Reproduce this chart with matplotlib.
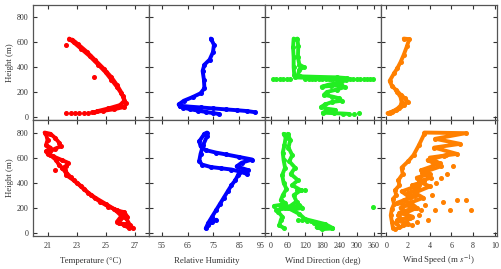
import matplotlib
matplotlib.use("Agg")
import matplotlib.pyplot as plt

# ── Data (heights in m) ─────────────────────────────────────
# Top row, temperature (deg C)
temp_top_t1 = [22.5, 22.8, 23.3, 23.9, 24.5, 25.0, 25.4, 25.8, 26.2, 26.4, 26.3, 25.6, 24.8, 24.2]
temp_top_h1 = [630, 600, 550, 490, 420, 360, 300, 240, 170, 110, 80, 62, 48, 38]
temp_top_t2 = [22.7, 23.1, 23.7, 24.3, 24.9, 25.4, 25.8, 26.1, 26.3, 26.0, 25.2, 24.4]
temp_top_h2 = [622, 585, 525, 455, 385, 320, 255, 195, 130, 95, 68, 45]
temp_top_dots_t = [22.3, 22.6, 22.9, 23.2, 23.5, 23.8, 24.1, 24.2]
temp_top_dots_h = [30, 31, 32, 33, 34, 35, 36, 320]
temp_top_out_t = [22.3]
temp_top_out_h = [580]

# Top row, relative humidity (%)
rh_top_r1 = [74.0, 75.2, 74.8, 73.5, 71.5, 70.8, 71.3, 71.5, 70.0, 67.0, 63.5, 61.5, 62.0]
rh_top_h1 = [630, 580, 520, 460, 420, 370, 300, 230, 190, 160, 130, 100, 85]
rh_top_r2 = [62.0, 66.0, 70.0, 75.0, 80.0, 84.0, 88.0, 91.0]
rh_top_h2 = [90, 82, 76, 68, 60, 54, 47, 38]
rh_top_r3 = [63.0, 66.0, 69.0, 72.0, 75.0, 77.0]
rh_top_h3 = [75, 62, 50, 40, 30, 24]

# Top row, wind direction (deg)
wd_top_d1 = [80, 78, 80, 80, 82, 86, 150, 210, 262]
wd_top_h1 = [630, 560, 480, 400, 340, 318, 312, 306, 300]
wd_top_d2 = [93, 96, 95, 100, 116, 100, 95, 102, 160, 230, 265]
wd_top_h2 = [630, 570, 480, 420, 400, 380, 340, 326, 322, 318, 312]
wd_top_d3 = [250, 230, 200, 178, 210, 245, 258, 230, 196, 186, 214, 238, 248, 214, 190, 176, 196, 226, 200, 182, 220, 252, 272]
wd_top_h3 = [290, 272, 258, 242, 250, 256, 240, 220, 200, 178, 164, 150, 130, 120, 100, 80, 66, 56, 45, 34, 30, 27, 24]
wd_top_dots_d = [8, 20, 32, 44, 56, 68, 120, 132, 144, 156, 168, 180, 192, 204, 216, 228, 240,
                 252, 264, 276, 288, 300, 312, 324, 336, 348, 358, 290, 308]
wd_top_dots_h = [304, 304, 304, 304, 304, 304, 304, 304, 304, 304, 304, 304, 304, 304, 304, 304, 304,
                 304, 304, 304, 304, 304, 304, 304, 304, 304, 304, 25, 28]

# Top row, wind speed (m/s)
ws_top_s1 = [1.6, 2.1, 1.9, 1.6, 1.3, 1.0, 0.7, 0.3, 0.5, 0.9, 1.3, 1.7, 1.95, 1.6, 1.2, 0.9, 0.5, 0.1]
ws_top_h1 = [630, 625, 570, 500, 440, 390, 350, 290, 250, 215, 180, 150, 123, 95, 75, 55, 40, 30]
ws_top_s2 = [1.0, 1.3, 1.4, 1.3, 1.0, 0.6, 0.3]
ws_top_h2 = [200, 160, 120, 90, 65, 45, 35]

# Bottom row, temperature
temp_bot_t1 = [20.8, 21.2, 21.5, 21.8, 21.9, 21.5, 21.2, 21.0, 21.4, 22.0, 22.4, 22.3, 22.0, 22.3, 22.6,
               23.0, 23.5, 24.0, 24.6, 25.2, 25.8, 26.2, 26.4, 26.7, 26.9]
temp_bot_h1 = [800, 790, 760, 720, 690, 670, 650, 630, 610, 580, 560, 535, 515, 480, 445,
               400, 350, 300, 250, 210, 180, 160, 120, 60, 38]
temp_bot_t2 = [20.9, 21.0, 20.9, 21.2, 20.9, 21.2, 21.6, 21.8, 22.2, 22.3, 22.8, 23.3, 23.8, 24.3,
               25.0, 25.6, 26.1, 25.8, 26.3, 26.6]
temp_bot_h2 = [790, 740, 700, 680, 650, 620, 580, 540, 500, 460, 420, 375, 320, 280,
               232, 190, 135, 90, 60, 40]
temp_bot_t3 = [25.7, 26.3, 26.5, 26.0, 25.9, 26.4, 26.6]
temp_bot_h3 = [180, 165, 130, 110, 75, 70, 55]
temp_bot_out_t = [21.5]
temp_bot_out_h = [505]

# Bottom row, relative humidity
rh_bot_r1 = [72.0, 73.0, 74.5, 76.0, 77.5, 79.0, 80.5, 82.0, 83.5, 84.5, 85.0, 88.5, 84.0, 86.0,
             90.0, 85.0, 80.0, 76.0, 72.0, 70.0, 69.5, 71.5, 72.5]
rh_bot_h1 = [35, 80, 130, 180, 230, 280, 330, 380, 420, 460, 480, 500, 530, 560,
             585, 605, 625, 640, 660, 690, 730, 790, 800]
rh_bot_r2 = [72.5, 71.0, 70.0, 69.5, 70.5, 74.0, 78.0, 82.0, 85.0, 88.0]
rh_bot_h2 = [770, 700, 630, 575, 545, 525, 515, 505, 490, 470]
rh_bot_r3 = [73.0, 74.5, 76.0]
rh_bot_h3 = [60, 90, 105]

# Bottom row, wind direction
wd_bot_d1 = [45, 52, 48, 42, 45, 50, 40, 45, 55, 42, 35, 50, 40, 25, 40, 35, 30, 45]
wd_bot_h1 = [790, 760, 700, 640, 580, 520, 460, 400, 350, 300, 260, 240, 210, 170, 130, 100, 60, 40]
wd_bot_d2 = [60, 68, 62, 75, 65, 85, 70, 95, 75, 105, 80, 90, 60, 100, 120, 155, 190, 215]
wd_bot_h2 = [790, 740, 680, 620, 570, 520, 470, 420, 380, 340, 300, 250, 200, 150, 110, 90, 70, 40]
wd_bot_d3 = [12, 40, 70, 100, 110, 80, 50, 20]
wd_bot_h3 = [215, 225, 205, 220, 200, 185, 195, 180]
wd_bot_d4 = [150, 175, 200, 215, 180, 160]
wd_bot_h4 = [80, 60, 50, 35, 30, 45]
wd_bot_dots_d = [95, 110, 125, 140, 90, 105, 118, 358]
wd_bot_dots_h = [104, 100, 95, 91, 344, 344, 344, 205]

# Bottom row, wind speed
ws_bot_s1 = [0.6, 0.5, 0.4, 0.5, 0.7, 0.6, 0.9, 0.8, 1.2, 1.1, 1.5, 1.4, 2.0, 2.5, 3.0, 3.5]
ws_bot_h1 = [40, 90, 140, 190, 230, 270, 300, 340, 380, 420, 470, 520, 570, 620, 700, 790]
ws_bot_s2 = [1.2, 0.9, 1.4, 1.1, 1.8, 1.3, 2.2, 1.6, 2.6, 2.0, 3.0, 2.4, 3.5, 2.8, 4.0, 3.2,
             4.2, 4.8, 4.0, 6.5, 4.4, 6.8, 4.5, 7.3, 3.5]
ws_bot_h2 = [50, 80, 110, 140, 170, 200, 230, 260, 290, 320, 350, 380, 410, 440, 470, 500,
             530, 560, 600, 630, 680, 710, 750, 795, 800]
ws_bot_s3 = [1.5, 2.2, 1.8, 2.8, 2.2, 3.4, 2.6, 4.0, 3.0, 4.1, 3.3, 5.0, 3.8, 5.5]
ws_bot_h3 = [60, 120, 160, 200, 240, 280, 320, 370, 410, 440, 480, 530, 580, 620]
ws_bot_s4 = [0.8, 2.0, 1.0, 2.4, 1.2, 2.6, 1.0, 2.2, 1.4, 3.0]
ws_bot_h4 = [30, 70, 100, 130, 160, 200, 240, 280, 330, 380]
ws_bot_dots_s = [5.3, 6.1, 5.0, 4.6, 6.5, 7.3, 7.8, 5.9, 4.5, 3.2, 3.8, 2.8, 5.6, 4.9, 6.0, 2.4, 3.0, 4.2, 5.2, 3.6]
ws_bot_dots_h = [611, 531, 437, 400, 264, 264, 184, 184, 184, 184, 104, 90, 470, 560, 640, 60, 140, 300, 250, 220]

# ── Panel setup ─────────────────────────────────────────────
RED, BLUE, GREEN, ORANGE = "#ff0000", "#0000ff", "#22ee22", "#ff8000"

plt.rcParams["font.family"] = ["Liberation Serif", "DejaVu Serif"]
plt.rcParams["mathtext.fontset"] = "stix"

W, H = 501, 269
fig = plt.figure(figsize=(W / 100, H / 100), dpi=100)

lefts = [33, 149, 265, 381]
pw = 116
rows = [(5, 120), (120, 236)]

xlims = [(20, 28), (50, 95), (-20, 385), (-0.5, 10.2)]
xticks = [[21, 23, 25, 27], [55, 65, 75, 85, 95], [0, 60, 120, 180, 240, 300, 360], [0, 2, 4, 6, 8, 10]]
xlabels = ["Temperature (°C)", "Relative Humidity", "Wind Direction (deg)", "Wind Speed (m $s^{-1}$)"]

panels = [
    [(RED, [(temp_top_t1, temp_top_h1), (temp_top_t2, temp_top_h2)],
      [(temp_top_dots_t, temp_top_dots_h), (temp_top_out_t, temp_top_out_h)]),
     (BLUE, [(rh_top_r1, rh_top_h1), (rh_top_r2, rh_top_h2), (rh_top_r3, rh_top_h3)], []),
     (GREEN, [(wd_top_d1, wd_top_h1), (wd_top_d2, wd_top_h2), (wd_top_d3, wd_top_h3)],
      [(wd_top_dots_d, wd_top_dots_h)]),
     (ORANGE, [(ws_top_s1, ws_top_h1), (ws_top_s2, ws_top_h2)], [])],
    [(RED, [(temp_bot_t1, temp_bot_h1), (temp_bot_t2, temp_bot_h2), (temp_bot_t3, temp_bot_h3)],
      [(temp_bot_out_t, temp_bot_out_h)]),
     (BLUE, [(rh_bot_r1, rh_bot_h1), (rh_bot_r2, rh_bot_h2), (rh_bot_r3, rh_bot_h3)], []),
     (GREEN, [(wd_bot_d1, wd_bot_h1), (wd_bot_d2, wd_bot_h2), (wd_bot_d3, wd_bot_h3), (wd_bot_d4, wd_bot_h4)],
      [(wd_bot_dots_d, wd_bot_dots_h)]),
     (ORANGE, [(ws_bot_s1, ws_bot_h1), (ws_bot_s2, ws_bot_h2), (ws_bot_s3, ws_bot_h3), (ws_bot_s4, ws_bot_h4)],
      [(ws_bot_dots_s, ws_bot_dots_h)])],
]

for r, (top, bot) in enumerate(rows):
    for c in range(4):
        ax = fig.add_axes([lefts[c] / W, 1 - bot / H, pw / W, (bot - top) / H])
        color, tracks, dots = panels[r][c]
        for xs, hs in tracks:
            ax.plot(xs, hs, color=color, lw=2.8, marker="o", ms=2.6,
                    solid_capstyle="round", solid_joinstyle="round")
        for xs, hs in dots:
            ax.plot(xs, hs, ls="none", color=color, marker="o", ms=2.6)

        ax.set_xlim(*xlims[c])
        ax.set_ylim(-25, 900)
        ax.set_xticks(xticks[c])
        ax.set_yticks([0, 200, 400, 600, 800])
        ax.tick_params(direction="in", top=True, right=True, length=3, width=0.8,
                       labelsize=5.8, colors="#333333", pad=4)
        ax.tick_params(axis="y", pad=3)
        for sp in ax.spines.values():
            sp.set_color("#555555")
            sp.set_linewidth(0.9)
        if c > 0:
            ax.set_yticklabels([])
        else:
            fig.text(10 / W, 1 - (top + bot) / 2 / H, "Height (m)", rotation=90,
                     ha="center", va="center", fontsize=6.3, color="#333333")
        if r == 0:
            ax.set_xticklabels([])
        else:
            if c == 1:
                ax.get_xticklabels()[-1].set_ha("right")
            fig.text((lefts[c] + pw / 2) / W, 1 - 261 / H, xlabels[c],
                     ha="center", va="center", fontsize=6.3, color="#333333")

plt.savefig("out.png", dpi=100)
plt.close()
